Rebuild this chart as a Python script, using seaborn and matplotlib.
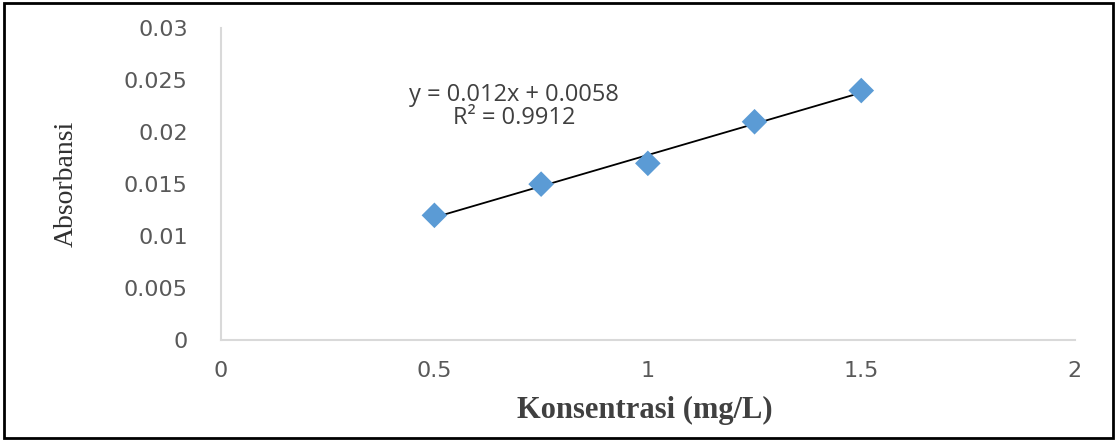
import matplotlib
matplotlib.use("Agg")
import matplotlib.pyplot as plt
import seaborn as sns
from matplotlib.patches import Rectangle

# data
konsentrasi = [0.5, 0.75, 1.0, 1.25, 1.5]
absorbansi = [0.012, 0.015, 0.017, 0.021, 0.024]
x_ticks = [0, 0.5, 1, 1.5, 2]
x_tick_labels = ["0", "0.5", "1", "1.5", "2"]
y_ticks = [0, 0.005, 0.01, 0.015, 0.02, 0.025, 0.03]
y_tick_labels = ["0", "0.005", "0.01", "0.015", "0.02", "0.025", "0.03"]
equation_text = "y = 0.012x + 0.0058\nR² = 0.9912"

sns.set_style("white")
plt.rcParams["font.family"] = ["DejaVu Sans"]

fig = plt.figure(figsize=(11.16, 4.4), dpi=100)
ax = fig.add_axes([0.198, 0.227, 0.765, 0.709])

# scatter points and linear trendline
sns.scatterplot(x=konsentrasi, y=absorbansi, marker="D", s=170, color="#5B9BD5",
                edgecolor="none", ax=ax, zorder=3)
sns.regplot(x=konsentrasi, y=absorbansi, scatter=False, ci=None, truncate=True,
            color="black", line_kws={"linewidth": 1.3}, ax=ax)

ax.set_xlim(0, 2)
ax.set_ylim(0, 0.03)
ax.set_xticks(x_ticks)
ax.set_xticklabels(x_tick_labels)
ax.set_yticks(y_ticks)
ax.set_yticklabels(y_tick_labels)
ax.tick_params(axis="both", length=0, labelsize=16, labelcolor="#595959")
ax.tick_params(axis="y", pad=24)
ax.tick_params(axis="x", pad=15)

for side in ["top", "right"]:
    ax.spines[side].set_visible(False)
for side in ["left", "bottom"]:
    ax.spines[side].set_color("#D9D9D9")
    ax.spines[side].set_linewidth(1.5)

ax.set_xlabel("Konsentrasi (mg/L)", family="Liberation Serif", fontweight="bold",
              fontsize=22, color="#404040")
ax.xaxis.set_label_coords(0.496, -0.18)
ax.set_ylabel("Absorbansi", family="Liberation Serif", fontsize=20, color="#303030")
ax.yaxis.set_label_coords(-0.167, 0.5)

ax.text(0.686, 0.02245, equation_text, ha="center", va="center", family="Open Sans",
        fontsize=17, color="#404040", linespacing=0.92)

fig.patches.append(Rectangle((0.004, 0.005), 0.993, 0.988, transform=fig.transFigure,
                             fill=False, edgecolor="black", linewidth=2))

fig.savefig("out.png", dpi=100)
